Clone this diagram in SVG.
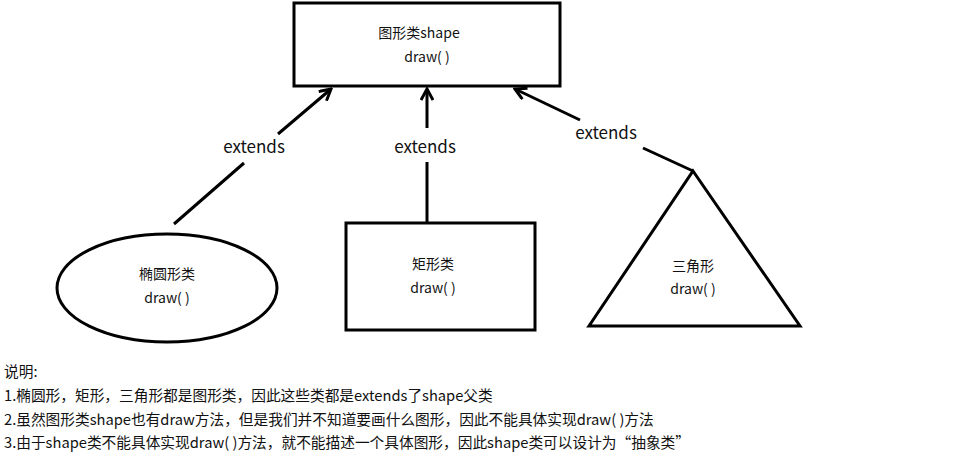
<svg xmlns="http://www.w3.org/2000/svg" width="954" height="452" viewBox="0 0 954 452">
<style>
text{font-family:"Microsoft YaHei","Noto Sans CJK SC","Noto Sans",sans-serif;fill:#111}
.n{font-size:14px;text-anchor:middle}
.l{font-size:17px;text-anchor:middle}
.b{font-size:14.7px}
.s{fill:#fff;stroke:#000;stroke-width:3}
.c{stroke:#000;stroke-width:3;fill:none}
</style>
<defs><marker id="a" markerWidth="14" markerHeight="14" refX="12" refY="7" orient="auto" markerUnits="userSpaceOnUse"><path d="M1,1 L12,7 L1,13" fill="none" stroke="#000" stroke-width="3"/></marker></defs>
<rect width="954" height="452" fill="#fff"/>
<g id="shape"><rect class="s" x="294" y="3" width="266" height="83"/><text class="n" x="419" y="38">图形类shape</text><text class="n" x="427" y="62">draw( )</text></g>
<g id="ellipse"><ellipse class="s" cx="167" cy="288" rx="110" ry="54"/><text class="n" x="167" y="279">椭圆形类</text><text class="n" x="167" y="303">draw( )</text></g>
<g id="rect"><rect class="s" x="346" y="223" width="189" height="107"/><text class="n" x="433" y="269">矩形类</text><text class="n" x="433" y="293">draw( )</text></g>
<g id="triangle"><path class="s" d="M693,171 L800,326 L589,326 Z"/><text class="n" x="693" y="271">三角形</text><text class="n" x="693" y="294">draw( )</text></g>
<g id="connectors">
<path class="c" d="M174,224 L244,163 M278,134 L331,89" marker-end="url(#a)"/>
<path class="c" d="M427,222 L427,162 M427,128 L427,89" marker-end="url(#a)"/>
<path class="c" d="M693,171 L643,148 M580,120 L515,89" marker-end="url(#a)"/>
<text class="l" x="254" y="153">extends</text>
<text class="l" x="425" y="153">extends</text>
<text class="l" x="606" y="139">extends</text>
</g>
<g id="notes">
<text class="b" x="4" y="377">说明:</text>
<text class="b" x="4" y="401">1.椭圆形，矩形，三角形都是图形类，因此这些类都是extends了shape父类</text>
<text class="b" x="4" y="425">2.虽然图形类shape也有draw方法，但是我们并不知道要画什么图形，因此不能具体实现draw( )方法</text>
<text class="b" x="4" y="448">3.由于shape类不能具体实现draw( )方法，就不能描述一个具体图形，因此shape类可以设计为“抽象类”</text>
</g>
</svg>
